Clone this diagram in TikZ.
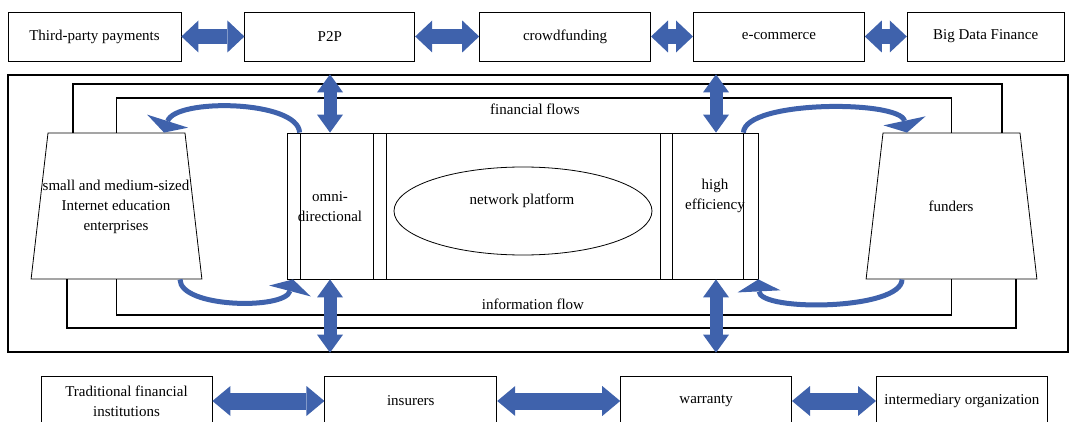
\documentclass[tikz,border=0pt]{standalone}
\usepackage{fontspec}
\setmainfont{Liberation Serif}
\usetikzlibrary{
    arrows.meta,
    positioning,
    shapes.geometric,
    calc
}
\definecolor{flowblue}{RGB}{63,98,172}

\begin{document}
\begin{tikzpicture}[
    x=1pt, y=-1pt,
    font=\fontsize{15}{20}\selectfont,
    box/.style={rectangle, draw, line width=0.8pt, minimum width=171pt, minimum height=49pt, align=center, inner sep=0pt},
    trap/.style={trapezium, draw, line width=0.8pt, trapezium left angle=83.4, trapezium right angle=83.4, inner xsep=68.5pt, inner ysep=73pt},
    col/.style={rectangle, draw, line width=0.8pt, minimum height=146pt, inner sep=0pt},
    label/.style={align=center, inner sep=1pt},
    flowline/.style={line width=1.2pt},
    hdbl/.style={flowblue, line width=15pt, {Triangle[width=32pt,length=17pt,line width=0pt]}-{Triangle[width=32pt,length=17pt,line width=0pt]}},
    ldbl/.style={flowblue, line width=17pt, {Triangle[width=30pt,length=18pt,line width=0pt]}-{Triangle[width=30pt,length=18pt,line width=0pt]}},
    vdbl/.style={flowblue, line width=13pt, {Triangle[width=26pt,length=18pt,line width=0pt]}-{Triangle[width=26pt,length=18pt,line width=0pt]}},
    curvarrow/.style={flowblue, line width=5pt, -{Triangle[width=43pt,length=12pt,line width=0pt]}}
]
\useasboundingbox (0,0) rectangle (1071,422);
\clip (0,0) rectangle (1071,422);

% Top row
\node[box, minimum width=173pt] (tp) at (94.5,36.5) {Third-party payments};
\node[box, minimum width=170pt, right=63pt of tp] (p2p) {P2P};
\node[box, right=64pt of p2p] (crowd) {crowdfunding};
\node[box, right=42pt of crowd] (ecom) {e-commerce};
\node[box, minimum width=157pt, right=42pt of ecom] (bdf) {Big Data Finance};

% Bottom row
\node[box, minimum height=50pt] (trad) at (126.5,401) {Traditional financial\\institutions};
\node[box, minimum width=172pt, minimum height=50pt, right=112pt of trad] (ins) {insurers};
\node[box, minimum height=50pt, right=123pt of ins] (war) {warranty};
\node[box, minimum height=50pt, right=84pt of war] (inter) {intermediary organization};

% Frame and platform
\node[draw, line width=1.3pt, minimum width=1060pt, minimum height=277pt] (frame) at (538,213.5) {};
\node[col, minimum width=471pt] (platform) at (522.5,206) {};
\node[col, minimum width=73pt] (omni) at (336.5,206) {};
\node[col, minimum width=274pt] (core) at (523,206) {};
\node[col, minimum width=71pt] (eff) at (707.5,206) {};
\node[ellipse, draw, line width=0.8pt, minimum width=258pt, minimum height=88pt] (net) at (523,211) {};
\node[label] (omnitxt) at (330,207) {omni-\\directional};
\node[label] (efftxt) at (715,196) {high\\efficiency};
\node[label] (nettxt) at (522,201) {network platform};

% Enterprises and funders
\node[trap] (sme) at (116.5,206) {};
\node[trap] (fund) at (951.5,206) {};
\node[label] (smetxt) at (116,207) {small and medium-sized\\Internet education\\enterprises};
\node[label] (fundtxt) at (951,206) {funders};

% Flow loops
\draw[flowline] (sme.north -| 73,0) |- (1002,84) -- (fund.north -| 1002,0);
\draw[flowline] (sme.north) |- (fund.north |- 0,98) -- (fund.north);
\draw[flowline] (sme.south) |- (fund.south |- 0,315) -- (fund.south);
\draw[flowline] (sme.south -| 67,0) |- (1016,328) -- (fund.south -| 1016,0);
\node[label] (fintxt) at (535,109) {financial flows};
\node[label] (infotxt) at (533,304) {information flow};

% Arrows between partners
\draw[hdbl] (tp) -- (p2p);
\draw[hdbl] (p2p) -- (crowd);
\draw[hdbl] (crowd) -- (ecom);
\draw[hdbl] (ecom) -- (bdf);
\draw[ldbl] (trad) -- (ins);
\draw[ldbl] (ins) -- (war);
\draw[ldbl] (war) -- (inter);

% Arrows through the frame
\draw[vdbl] (frame.north -| 330,0) -- (platform.north -| 330,0);
\draw[vdbl] (frame.north -| 716,0) -- (platform.north -| 716,0);
\draw[vdbl] (platform.south -| 330,0) -- (frame.south -| 330,0);
\draw[vdbl] (platform.south -| 716,0) -- (frame.south -| 716,0);

% Curved flows
\draw[curvarrow] (omni.north west) .. controls (298,100) and (175,98) .. (sme.north -| 164,0);
\draw[curvarrow] (sme.south -| 180,0) .. controls (180,308) and (285,310) .. (platform.south -| 293,0);
\draw[curvarrow] (eff.north east) .. controls (745,100) and (900,100) .. (fund.north -| 907,0);
\draw[curvarrow] (fund.south -| 902,0) .. controls (902,310) and (760,312) .. (platform.south east);
\end{tikzpicture}
\end{document}
